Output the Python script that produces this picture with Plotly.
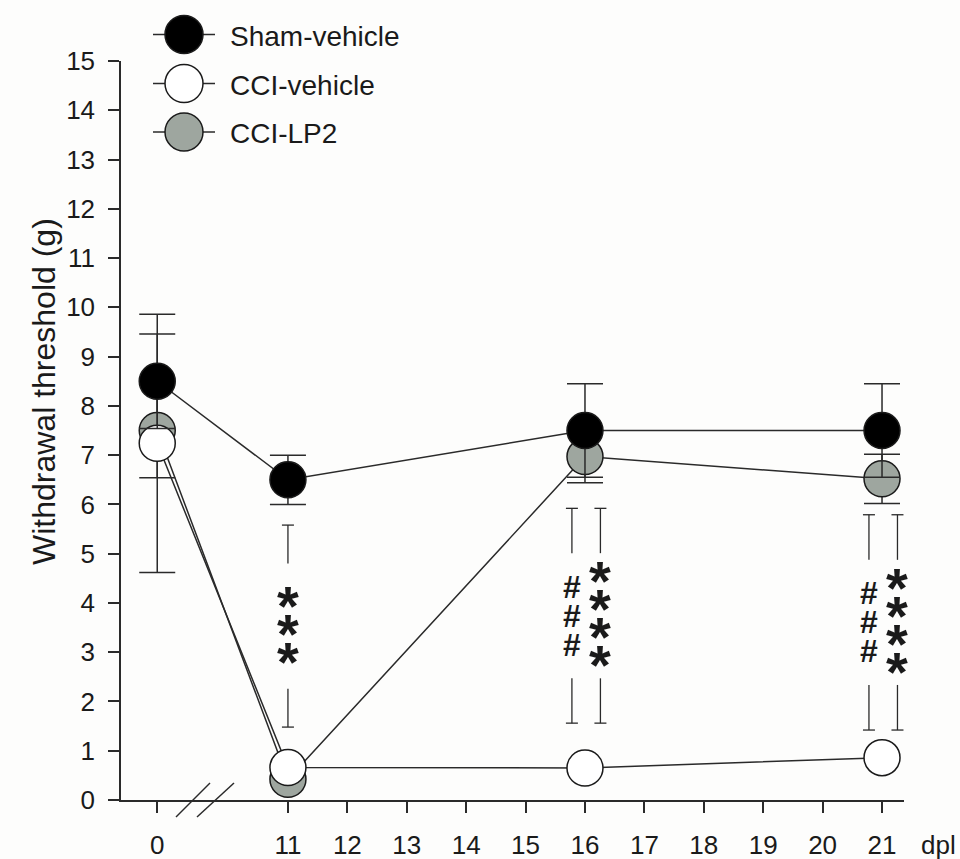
import plotly.graph_objects as go

# ---------------- data ----------------
days = [0, 11, 16, 21]
sham_vehicle = [8.5, 6.5, 7.5, 7.5]
sham_err = [0.96, 0.5, 0.95, 0.95]
cci_vehicle = [7.24, 0.66, 0.65, 0.86]
cci_vehicle_err = [2.62, 0.05, 0.05, 0.05]
cci_lp2 = [7.5, 0.42, 6.97, 6.52]
cci_lp2_err = [0.96, 0.05, 0.53, 0.5]

tick_days = [0, 11, 12, 13, 14, 15, 16, 17, 18, 19, 20, 21]
y_ticks = list(range(0, 16))

# significance brackets
sig_days = [11, 16, 16, 21, 21]
sig_symbols = ["*", "#", "*", "#", "*"]
sig_counts = [3, 3, 4, 3, 4]
sig_upper = [5.58, 5.92, 5.92, 5.79, 5.79]
sig_lower = [1.48, 1.56, 1.56, 1.42, 1.42]

# ---------------- layout helpers ----------------
W, H = 960, 859
L, R, T, B = 121, 56, 61, 59
PW, PH = W - L - R, H - T - B
BREAK_POS = 8.8  # axis position of day 0 (broken axis)


def xpos(d):
    return d if d >= 11 else BREAK_POS + d


def px_x(px):
    return (px - L) / PW


def px_y(py):
    return (H - B - py) / PH


FONT = "Liberation Sans, Arial, sans-serif"
INK = "#1a1a1a"
LINE = "#2a2a2a"
GREY = "#9ea69f"

xs = [xpos(d) for d in days]

fig = go.Figure()


def add_series(name, vals, errs, fill):
    fig.add_trace(go.Scatter(
        x=xs, y=vals, name=name, mode="lines+markers",
        line=dict(color=LINE, width=1.5),
        marker=dict(size=36, color=fill, line=dict(color=INK, width=1.5)),
        error_y=dict(type="data", array=errs, visible=True,
                     color=LINE, thickness=1.5, width=18),
        cliponaxis=False, showlegend=False,
    ))


add_series("CCI-LP2", cci_lp2, cci_lp2_err, GREY)
add_series("CCI-vehicle", cci_vehicle, cci_vehicle_err, "white")
add_series("Sham-vehicle", sham_vehicle, sham_err, "black")

shapes = []
annotations = []

# significance brackets and symbols
x_unit_px = PW / (21.37 - 8.19)
y_unit_px = PH / 15.0
for d, sym, cnt, up, lo in zip(sig_days, sig_symbols, sig_counts, sig_upper, sig_lower):
    n_same = sig_days.count(d)
    if n_same == 1:
        off = 0.0
    else:
        off = -0.22 if sym == "#" else 0.26
    xc = xpos(d) + off
    mid = (up + lo) / 2.0
    half_gap = 1.27
    cap = 6 / x_unit_px
    seg = dict(type="line", xref="x", yref="y", line=dict(color=LINE, width=1.3))
    shapes.append(dict(seg, x0=xc, x1=xc, y0=up, y1=mid + half_gap))
    shapes.append(dict(seg, x0=xc - cap, x1=xc + cap, y0=up, y1=up))
    shapes.append(dict(seg, x0=xc, x1=xc, y0=lo, y1=mid - half_gap))
    shapes.append(dict(seg, x0=xc - cap, x1=xc + cap, y0=lo, y1=lo))
    spacing = (28 if sym == "*" else 29) / y_unit_px
    for i in range(cnt):
        yy = mid + (cnt - 1) / 2.0 * spacing - i * spacing
        if sym == "*":
            annotations.append(dict(x=xc, y=yy, xref="x", yref="y", text="*",
                                    showarrow=False, yshift=-7,
                                    font=dict(family=FONT, size=56, color=INK, weight="bold")))
        else:
            annotations.append(dict(x=xc, y=yy, xref="x", yref="y", text="#",
                                    showarrow=False, yshift=0,
                                    font=dict(family=FONT, size=32, color=INK, weight="bold")))

# axis break slashes
for (a, b, c, e) in [(176, 817, 210, 783), (197, 817, 234, 783)]:
    shapes.append(dict(type="line", xref="paper", yref="paper",
                       x0=px_x(a), y0=px_y(b), x1=px_x(c), y1=px_y(e),
                       line=dict(color=LINE, width=1.5)))

# custom legend
legend_items = [("Sham-vehicle", "black"), ("CCI-vehicle", "white"), ("CCI-LP2", GREY)]
leg_y = [34.5, 83.5, 132]
for (lab, fill), py in zip(legend_items, leg_y):
    shapes.append(dict(type="line", xref="paper", yref="paper",
                       x0=px_x(153), x1=px_x(215), y0=px_y(py), y1=px_y(py),
                       line=dict(color=LINE, width=1.5)))
    shapes.append(dict(type="circle", xref="paper", yref="paper",
                       xsizemode="pixel", ysizemode="pixel",
                       xanchor=px_x(184), yanchor=px_y(py),
                       x0=-19, x1=19, y0=-19, y1=19,
                       fillcolor=fill, line=dict(color=INK, width=1.5)))
    annotations.append(dict(x=px_x(228), y=px_y(py + 2), xref="paper", yref="paper",
                            text=lab, showarrow=False, xanchor="left", yanchor="middle",
                            font=dict(family=FONT, size=28, color=INK)))

# y axis title and x unit label
annotations.append(dict(x=px_x(24), y=px_y(392), xref="paper", yref="paper",
                        text="Withdrawal threshold (g)", textangle=-90, showarrow=False,
                        font=dict(family=FONT, size=32, color=INK)))
annotations.append(dict(x=px_x(938), y=px_y(845), xref="paper", yref="paper",
                        text="dpl", showarrow=False, xanchor="center", yanchor="middle",
                        font=dict(family=FONT, size=26, color=INK)))

fig.update_layout(
    width=W, height=H,
    margin=dict(l=L, r=R, t=T, b=B, autoexpand=False),
    paper_bgcolor="#fdfdfc", plot_bgcolor="#fdfdfc",
    shapes=shapes, annotations=annotations,
    showlegend=False,
    xaxis=dict(range=[8.19, 21.37], showgrid=False, zeroline=False,
               showline=True, linecolor=LINE, linewidth=1.5,
               ticks="outside", ticklen=11, tickwidth=1.5, tickcolor=LINE,
               tickvals=[xpos(d) for d in tick_days],
               ticktext=[str(d) for d in tick_days],
               ticklabelstandoff=10,
               tickfont=dict(family=FONT, size=26, color=INK)),
    yaxis=dict(range=[0, 15], showgrid=False, zeroline=False,
               showline=True, linecolor=LINE, linewidth=1.5,
               ticks="outside", ticklen=11, tickwidth=1.5, tickcolor=LINE,
               tickvals=y_ticks, ticklabelstandoff=8,
               tickfont=dict(family=FONT, size=26, color=INK)),
)

fig.write_html("out.html")
